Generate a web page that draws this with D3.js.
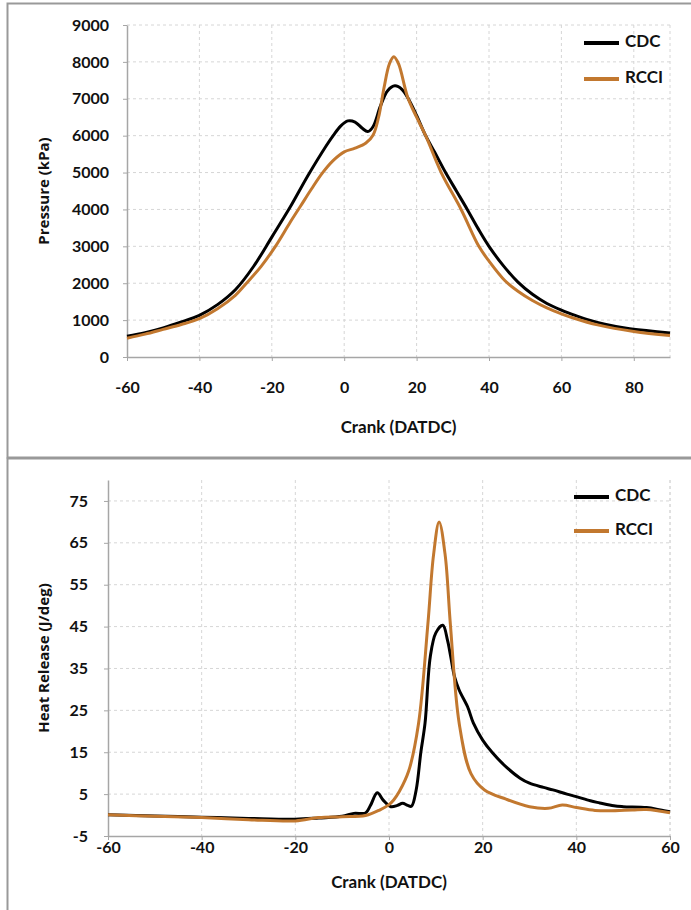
<!DOCTYPE html>
<html>
<head>
<meta charset="utf-8">
<script src="https://cdn.jsdelivr.net/npm/d3@7"></script>
<style>
  body { margin: 0; background: #fff; }
  svg text { font-family: Lato, "Open Sans", sans-serif; fill: #111; }
</style>
</head>
<body>
<div class="visual"></div>
<script>
// pressure panel (crank angle, kPa)
const cdcPressure = [
  [-60, 560], [-55, 660], [-50, 790], [-45, 950], [-40, 1130], [-35, 1420], [-30, 1830],
  [-25, 2460], [-20, 3250], [-15, 4050], [-10, 4920], [-5, 5720], [-3, 6010], [-1, 6260],
  [1, 6400], [3, 6370], [5, 6200], [6.5, 6110], [8, 6250], [10, 6800], [12, 7220],
  [14, 7350], [16, 7250], [18, 6950], [20, 6550], [22.5, 6000], [25, 5550], [28, 5000],
  [31, 4500], [34, 4000], [37, 3480], [40, 3000], [44, 2470], [48, 2030], [52, 1700],
  [56, 1450], [60, 1270], [64, 1120], [67, 1020], [72, 890], [78, 780], [84, 710], [90, 650]
];
const rcciPressure = [
  [-60, 510], [-55, 620], [-50, 750], [-45, 880], [-40, 1040], [-35, 1310], [-30, 1680],
  [-27, 2000], [-23, 2450], [-19, 3000], [-15, 3640], [-12, 4100], [-9, 4560], [-6, 4990],
  [-3, 5330], [0, 5560], [3, 5660], [6, 5800], [8, 6020], [9.5, 6500], [11, 7300],
  [12.5, 7950], [13.7, 8140], [15, 7950], [17.5, 7050], [20, 6500], [22.5, 6000],
  [26.8, 5000], [32.3, 4000], [37.2, 3000], [40, 2600], [44.5, 2060], [48, 1780],
  [52, 1530], [56, 1330], [60, 1170], [63.5, 1050], [70, 870], [80, 690], [90, 580]
];

// heat release panel (crank angle, J/deg)
const cdcHeat = [
  [-60, 0.1], [-50, -0.2], [-40, -0.5], [-30, -0.8], [-20, -1.0], [-15, -0.7], [-10, -0.3],
  [-7.5, 0.4], [-5, 0.5], [-4, 2.2], [-2.5, 5.3], [-1.2, 3.5], [0.4, 2.0], [1.8, 2.3],
  [2.9, 2.8], [4, 2.3], [4.8, 2.1], [5.8, 6], [6.8, 15], [7.7, 22], [8.8, 37.7],
  [10, 43.5], [11.5, 45.3], [12.5, 41.7], [13.2, 37.7], [14, 33], [15, 29.8], [16.8, 25.8],
  [18, 22], [20, 17.9], [22, 15], [25, 11.5], [28, 8.8], [30, 7.6], [33, 6.6], [35, 6.0],
  [38, 5.0], [40, 4.4], [43, 3.4], [45, 2.9], [48, 2.2], [50, 2.0], [55, 1.8], [58, 1.2],
  [60, 0.8]
];
const rcciHeat = [
  [-60, 0.1], [-50, -0.3], [-40, -0.6], [-30, -1.1], [-20, -1.4], [-15, -0.6], [-10, -0.4],
  [-5, -0.1], [-2, 1.2], [0, 2.5], [1, 3.6], [2.2, 5.6], [4.2, 10.5], [6.3, 21.8], [8.3, 45.6],
  [9.5, 62], [10.7, 70], [12, 62], [13.1, 45.6], [15, 21.8], [17.5, 9.9], [20.4, 6.0],
  [25, 3.8], [30, 2.0], [34, 1.6], [37, 2.4], [40, 1.8], [44, 1.1], [47, 1.0], [52, 1.2],
  [55, 1.3], [60, 0.55]
];

const pressureTicksY = [0, 1000, 2000, 3000, 4000, 5000, 6000, 7000, 8000, 9000];
const pressureTicksX = [-60, -40, -20, 0, 20, 40, 60, 80];
const heatTicksY = [-5, 5, 15, 25, 35, 45, 55, 65, 75];
const heatTicksX = [-60, -40, -20, 0, 20, 40, 60];

const seriesNames = ["CDC", "RCCI"];
const seriesColors = ["#000000", "#c2782f"];

const svg = d3.select(".visual").append("svg")
  .attr("width", 691)
  .attr("height", 910);

// panel frames
svg.append("path")
  .attr("d", "M691,3.5 H7.5 V457.5 H691")
  .attr("fill", "none").attr("stroke", "#999").attr("stroke-width", 2);
svg.append("path")
  .attr("d", "M691,458.5 H7.5 V910")
  .attr("fill", "none").attr("stroke", "#999").attr("stroke-width", 2);

function drawChart(opts) {
  const x = d3.scaleLinear().domain(opts.xDomain).range([opts.left, opts.right]);
  const y = d3.scaleLinear().domain(opts.yDomain).range([opts.bottom, opts.top]);
  const g = svg.append("g");

  // dashed grid
  g.selectAll(".hgrid").data(opts.yTicks.filter(d => d !== opts.yDomain[0]))
    .enter().append("line")
    .attr("x1", opts.left).attr("x2", opts.right)
    .attr("y1", d => y(d)).attr("y2", d => y(d))
    .attr("stroke", "#d6d6d6").attr("stroke-dasharray", "3,3");
  g.selectAll(".vgrid").data(opts.xTicks.filter(d => d !== opts.xDomain[0]).concat(opts.xDomain[1]))
    .enter().append("line")
    .attr("x1", d => x(d)).attr("x2", d => x(d))
    .attr("y1", opts.top).attr("y2", opts.bottom)
    .attr("stroke", "#d6d6d6").attr("stroke-dasharray", "3,3");

  // axes
  const fmt = d => String(d);
  const xAxis = g.append("g")
    .attr("transform", `translate(0,${opts.bottom})`)
    .call(d3.axisBottom(x).tickValues(opts.xTicks).tickFormat(fmt).tickSize(4).tickSizeOuter(0));
  const yAxis = g.append("g")
    .attr("transform", `translate(${opts.left},0)`)
    .call(d3.axisLeft(y).tickValues(opts.yTicks).tickFormat(fmt).tickSize(4).tickSizeOuter(0));
  [xAxis, yAxis].forEach(a => {
    a.select(".domain").attr("stroke", "#a6a6a6").attr("stroke-width", 1.5);
    a.selectAll(".tick line").attr("stroke", "#a6a6a6");
    a.selectAll("text")
      .style("font-family", "Lato, sans-serif")
      .style("font-size", "16px")
      .style("font-weight", "bold")
      .attr("fill", "#111");
  });
  xAxis.selectAll("text").attr("dy", null).attr("y", opts.xLabelDy);
  yAxis.selectAll("text").attr("x", -opts.yLabelPad);

  // series
  const line = d3.line().x(d => x(d[0])).y(d => y(d[1])).curve(d3.curveCatmullRom.alpha(0.5));
  opts.series.forEach((s, i) => {
    g.append("path")
      .datum(s)
      .attr("fill", "none")
      .attr("stroke", seriesColors[i])
      .attr("stroke-width", 3)
      .attr("stroke-linejoin", "round")
      .attr("d", line);
  });

  // legend
  seriesNames.forEach((name, i) => {
    const ly = opts.legendY + i * opts.legendGap;
    g.append("line")
      .attr("x1", opts.legendX).attr("x2", opts.legendX + 35)
      .attr("y1", ly).attr("y2", ly)
      .attr("stroke", seriesColors[i]).attr("stroke-width", 4);
    g.append("text")
      .attr("x", opts.legendX + 41).attr("y", ly)
      .attr("dominant-baseline", "middle")
      .style("font-size", "17px").style("font-weight", "bold")
      .text(name);
  });

  // titles
  g.append("text")
    .attr("x", (opts.left + opts.right) / 2).attr("y", opts.xTitleY)
    .attr("text-anchor", "middle")
    .style("font-size", "17px").style("font-weight", "bold")
    .text("Crank (DATDC)");
  g.append("text")
    .attr("transform", `translate(45,${(opts.top + opts.bottom) / 2}) rotate(-90)`)
    .attr("text-anchor", "middle")
    .attr("dominant-baseline", "middle")
    .style("font-family", "'Open Sans', sans-serif")
    .style("font-size", "15px").style("font-weight", "bold")
    .text(opts.yTitle);
}

drawChart({
  left: 127, right: 670, top: 25, bottom: 357,
  xDomain: [-60, 90], yDomain: [0, 9000],
  xTicks: pressureTicksX, yTicks: pressureTicksY,
  xLabelDy: 36, yLabelPad: 18,
  series: [cdcPressure, rcciPressure],
  legendX: 584, legendY: 43, legendGap: 36,
  xTitleY: 433, yTitle: "Pressure (kPa)"
});

drawChart({
  left: 108, right: 670, top: 480, bottom: 836,
  xDomain: [-60, 60], yDomain: [-5, 80],
  xTicks: heatTicksX, yTicks: heatTicksY,
  xLabelDy: 17, yLabelPad: 20,
  series: [cdcHeat, rcciHeat],
  legendX: 574, legendY: 497, legendGap: 34,
  xTitleY: 888, yTitle: "Heat Release (J/deg)"
});
</script>
</body>
</html>
